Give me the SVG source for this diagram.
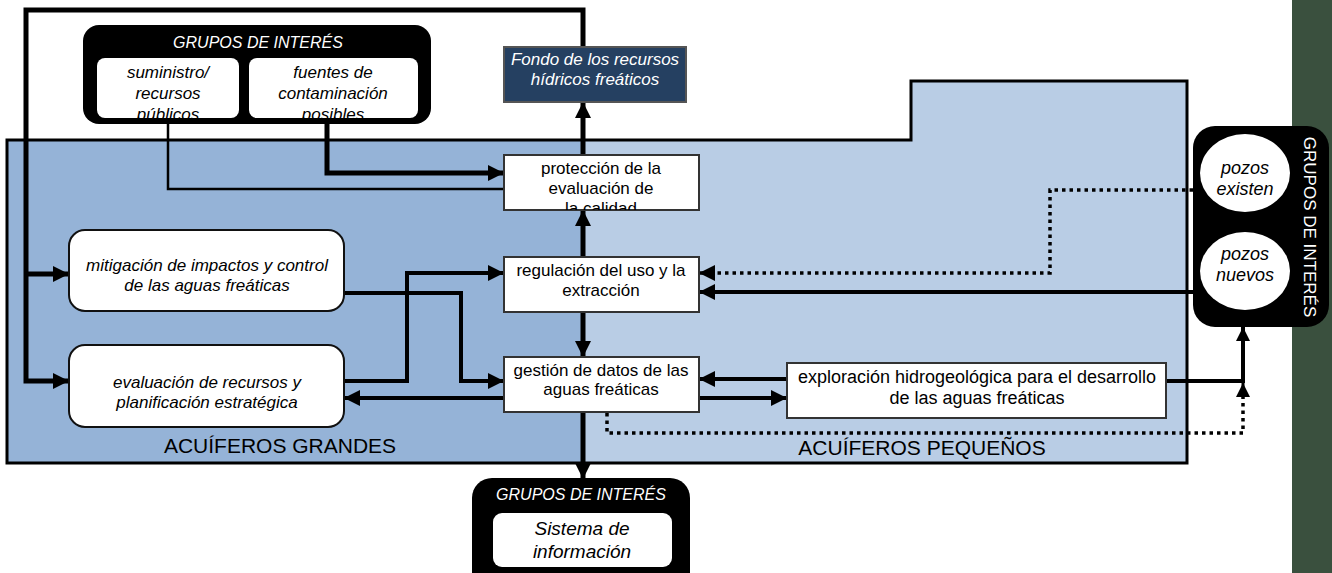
<svg xmlns="http://www.w3.org/2000/svg" width="1332" height="573" viewBox="0 0 1332 573">
  <defs>
    <style>
      text { font-family: "Liberation Sans", Arial, sans-serif; fill: #000; }
      .it { font-style: italic; }
      .wt { fill: #fff; }
      .mid { text-anchor: middle; }
      .box { fill: #fff; stroke: #333; stroke-width: 2; }
      .rbox { fill: #fff; stroke: #111; stroke-width: 2; }
      .holder { fill: #000; }
      .inner { fill: #fff; }
      .thick { fill: none; stroke: #000; stroke-width: 5; }
      .mid4 { fill: none; stroke: #000; stroke-width: 4; }
      .thin { fill: none; stroke: #000; stroke-width: 2.5; }
      .dot { fill: none; stroke: #000; stroke-width: 3.5; stroke-dasharray: 3.5 4; }
    </style>
    <marker id="ah" markerUnits="userSpaceOnUse" viewBox="0 0 16 16" refX="16" refY="8" markerWidth="16" markerHeight="16" orient="auto">
      <path d="M0,0 L16,8 L0,16 z" fill="#000"/>
    </marker>
    <marker id="ahs" markerUnits="userSpaceOnUse" viewBox="0 0 14 14" refX="14" refY="7" markerWidth="14" markerHeight="14" orient="auto">
      <path d="M0,0 L14,7 L0,14 z" fill="#000"/>
    </marker>
    <clipPath id="cSum"><rect x="97" y="58" width="142" height="60"/></clipPath>
    <clipPath id="cFue"><rect x="249" y="58" width="169" height="60"/></clipPath>
    <clipPath id="cPro"><rect x="504" y="155" width="195" height="55"/></clipPath>
    <clipPath id="cSis"><rect x="470" y="470" width="230" height="103"/></clipPath>
  </defs>

  <!-- side band -->
  <rect x="1292" y="0" width="40" height="573" fill="#3a503e"/>

  <!-- aquifer zones -->
  <g id="zone-large">
    <rect x="7" y="140" width="576" height="323" fill="#95b3d7" stroke="#000" stroke-width="3"/>
    <text x="280" y="453" class="mid" font-size="21">ACUÍFEROS GRANDES</text>
  </g>
  <g id="zone-small">
    <path d="M583,140 H911 V81 H1187 V463 H583 Z" fill="#b9cde5" stroke="#000" stroke-width="3"/>
    <text x="922" y="455" class="mid" font-size="21">ACUÍFEROS PEQUEÑOS</text>
  </g>

  <!-- connectors -->
  <g id="connectors">
    <path class="thick" d="M583,47 V10 H26 V381 H69" marker-end="url(#ah)"/>
    <path class="thick" d="M26,274 H69" marker-end="url(#ah)"/>
    <path class="thin" d="M168,118 V189 H504"/>
    <path class="thick" d="M327,118 V173 H504" marker-end="url(#ah)"/>
    <path class="thick" d="M583,155 V102" marker-end="url(#ah)"/>
    <path class="thick" d="M583,257 V210" marker-end="url(#ah)"/>
    <path class="thick" d="M583,312 V357" marker-end="url(#ah)"/>
    <path class="thick" d="M583,412 V479" marker-end="url(#ah)"/>
    <path class="mid4" d="M344,293 H461 V381 H504" marker-end="url(#ah)"/>
    <path class="mid4" d="M344,381 H407 V273 H504" marker-end="url(#ah)"/>
    <path class="mid4" d="M504,398 H344" marker-end="url(#ah)"/>
    <path class="mid4" d="M1193,292 H699" marker-end="url(#ah)"/>
    <path class="dot" d="M1193,190 H1050 V273 H715"/>
    <path d="M715,273 H699" stroke="#000" stroke-width="3.5" marker-end="url(#ah)"/>
    <path class="mid4" d="M787,379 H699" marker-end="url(#ah)"/>
    <path class="mid4" d="M699,398 H787" marker-end="url(#ah)"/>
    <path class="mid4" d="M1166,381 H1243 V327" marker-end="url(#ahs)"/>
    <path class="dot" d="M607,413 V433 H1243 V397"/>
    <path d="M1243,397 V383" stroke="#000" stroke-width="3" marker-end="url(#ahs)"/>
  </g>

  <!-- stakeholders, top -->
  <g id="stakeholders-top">
    <rect class="holder" x="83" y="25" width="348" height="99" rx="16"/>
    <text x="258" y="48" class="mid it wt" font-size="16">GRUPOS DE INTERÉS</text>
    <rect class="inner" x="97" y="58" width="142" height="60" rx="8"/>
    <g clip-path="url(#cSum)">
      <text class="mid it" font-size="17" x="168" y="78">suministro/</text>
      <text class="mid it" font-size="17" x="168" y="99">recursos</text>
      <text class="mid it" font-size="17" x="168" y="120">públicos</text>
    </g>
    <rect class="inner" x="249" y="58" width="169" height="60" rx="8"/>
    <g clip-path="url(#cFue)">
      <text class="mid it" font-size="17" x="333" y="78">fuentes de</text>
      <text class="mid it" font-size="17" x="333" y="99">contaminación</text>
      <text class="mid it" font-size="17" x="333" y="120">posibles</text>
    </g>
  </g>

  <!-- groundwater fund -->
  <g id="fondo">
    <rect x="504" y="47" width="182" height="55" fill="#254061" stroke="#555" stroke-width="2"/>
    <text class="mid it wt" font-size="17" x="595" y="65">Fondo de los recursos</text>
    <text class="mid it wt" font-size="17" x="595" y="85">hídricos freáticos</text>
  </g>

  <g id="proteccion">
    <rect class="box" x="504" y="155" width="195" height="55"/>
    <g clip-path="url(#cPro)">
      <text class="mid" font-size="17" x="601" y="174">protección de la</text>
      <text class="mid" font-size="17" x="601" y="194">evaluación de</text>
      <text class="mid" font-size="17" x="601" y="214">la calidad</text>
    </g>
  </g>

  <g id="regulacion">
    <rect class="box" x="504" y="257" width="195" height="55"/>
    <text class="mid" font-size="17" x="601" y="276">regulación del uso y la</text>
    <text class="mid" font-size="17" x="601" y="296">extracción</text>
  </g>

  <g id="gestion">
    <rect class="box" x="504" y="357" width="195" height="55"/>
    <text class="mid" font-size="17" x="601" y="376">gestión de datos de las</text>
    <text class="mid" font-size="17" x="601" y="395">aguas freáticas</text>
  </g>

  <g id="exploracion">
    <rect class="box" x="787" y="363" width="379" height="55"/>
    <text class="mid" font-size="18" x="977" y="383">exploración hidrogeológica para el desarrollo</text>
    <text class="mid" font-size="18" x="977" y="404">de las aguas freáticas</text>
  </g>

  <g id="mitigacion">
    <rect class="rbox" x="69" y="230" width="275" height="81" rx="16"/>
    <text class="mid it" font-size="17" x="207" y="271">mitigación de impactos y control</text>
    <text class="mid it" font-size="17" x="207" y="291">de las aguas freáticas</text>
  </g>

  <g id="evaluacion">
    <rect class="rbox" x="69" y="345" width="275" height="82" rx="16"/>
    <text class="mid it" font-size="17" x="207" y="388">evaluación de recursos y</text>
    <text class="mid it" font-size="17" x="207" y="408">planificación estratégica</text>
  </g>

  <!-- stakeholders, wells -->
  <g id="stakeholders-wells">
    <rect class="holder" x="1193" y="126" width="136" height="201" rx="22"/>
    <ellipse class="inner" cx="1245" cy="173" rx="45" ry="39"/>
    <text class="mid it" font-size="18" x="1245" y="174">pozos</text>
    <text class="mid it" font-size="18" x="1245" y="195">existen</text>
    <ellipse class="inner" cx="1245" cy="271" rx="45" ry="39"/>
    <text class="mid it" font-size="18" x="1245" y="260">pozos</text>
    <text class="mid it" font-size="18" x="1245" y="281">nuevos</text>
    <text class="mid wt" font-size="17" transform="translate(1304,227) rotate(90)">GRUPOS DE INTERÉS</text>
  </g>

  <!-- stakeholders, information -->
  <g id="stakeholders-info" clip-path="url(#cSis)">
    <rect class="holder" x="472" y="478" width="218" height="120" rx="20"/>
    <text class="mid it wt" font-size="16" x="581" y="500">GRUPOS DE INTERÉS</text>
    <rect class="inner" x="493" y="513" width="179" height="54" rx="9"/>
    <text class="mid it" font-size="19" x="582" y="535">Sistema de</text>
    <text class="mid it" font-size="19" x="582" y="558">información</text>
  </g>
</svg>
